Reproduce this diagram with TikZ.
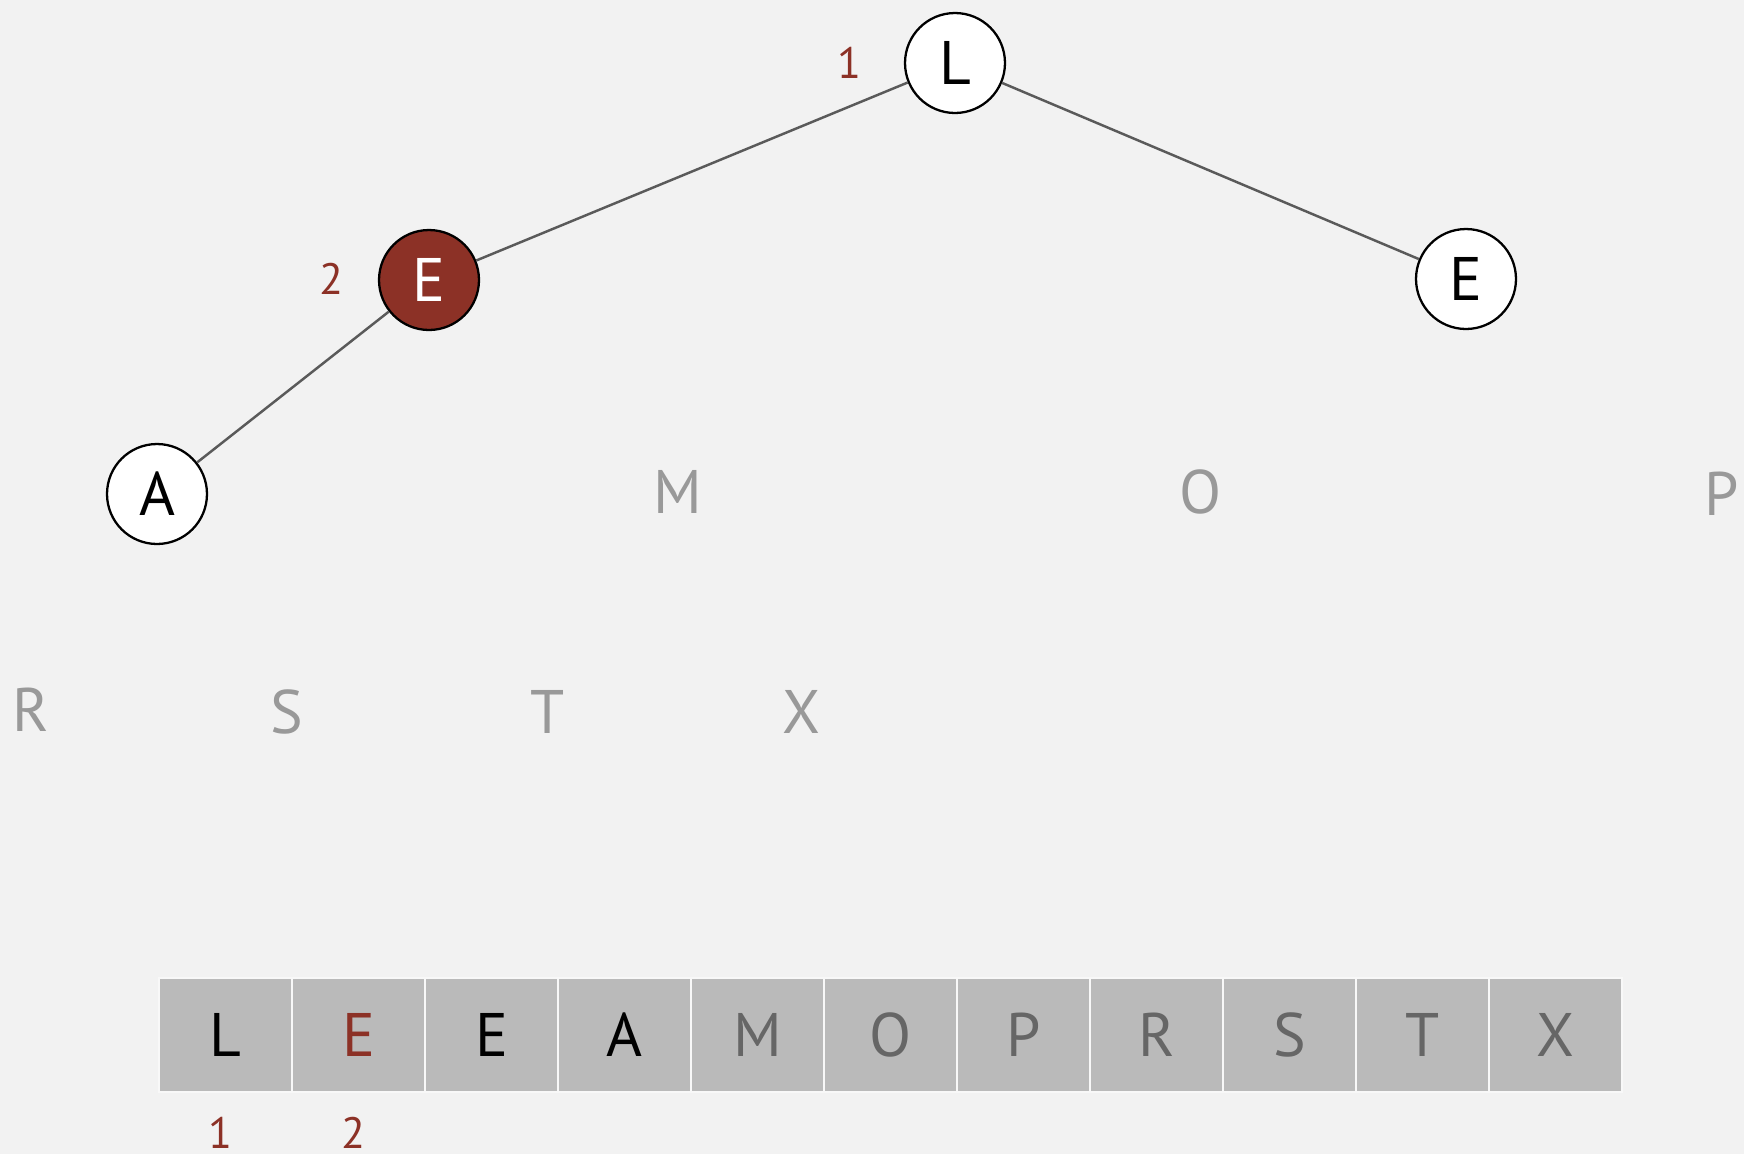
\documentclass[tikz,border=0pt]{standalone}
\usepackage{fontspec}
\setmainfont{PT Sans}
\usetikzlibrary{positioning}
\definecolor{bgcol}{HTML}{F2F2F2}
\definecolor{hlred}{HTML}{8C3126}
\definecolor{faded}{HTML}{999999}
\definecolor{darkgrey}{HTML}{666666}
\definecolor{cellgrey}{HTML}{BABABA}
\definecolor{edgegrey}{HTML}{5A5A5A}
\tikzset{
    treenode/.style={circle, draw=black, line width=1.3pt, fill=white, minimum size=2cm, inner sep=0pt, font=\fontsize{35}{35}\selectfont},
    hlnode/.style={treenode, fill=hlred, text=white},
    ghost/.style={text=faded, font=\fontsize{35}{35}\selectfont},
    idx/.style={text=hlred, font=\fontsize{25}{25}\selectfont},
    edge/.style={draw=edgegrey, line width=1.4pt},
    cell/.style={rectangle, draw=white!90!cellgrey, line width=1pt, fill=cellgrey, minimum width=2.66cm, minimum height=2.28cm, inner sep=0pt, font=\fontsize{35}{35}\selectfont}
}
\begin{document}
\begin{tikzpicture}[x=0.02cm, y=-0.02cm]
        \fill[bgcol] (0,0) rectangle (1744,1154);
        \useasboundingbox (0,0) rectangle (1744,1154);
        % Tree
        \node (l) [treenode] at (955, 63) {L};
        \node (e1) [hlnode] at (429, 280) {E};
        \node (e2) [treenode] at (1466, 279) {E};
        \node (a) [treenode] at (157, 494) {A};
        \node (l1) [idx] at (849, 63) {1};
        \node (l2) [idx] at (331, 279) {2};
        
        % Remaining keys
        \node (m) [ghost] at (678, 492) {M};
        \node (o) [ghost] at (1201, 492) {O};
        \node (p) [ghost] at (1722, 494) {P};
        \node (r) [ghost] at (31, 710) {R};
        \node (s) [ghost] at (287, 712) {S};
        \node (t) [ghost] at (548, 712) {T};
        \node (x) [ghost] at (801, 712) {X};
        
        % Links
        \draw[edge] (l) -- (e1);
        \draw[edge] (l) -- (e2);
        \draw[edge] (e1) -- (a);
        
        % Array
        \foreach \ch/\col [count=\i from 0] in {L/black, E/hlred, E/black, A/black, M/darkgrey, O/darkgrey, P/darkgrey, R/darkgrey, S/darkgrey, T/darkgrey, X/darkgrey}
            \node (c\i) [cell, text=\col] at (225.5+133*\i, 1035) {\ch};
        \node (i1) [idx, below=0.36cm of c0, xshift=-0.1cm] {1};
        \node (i2) [idx, below=0.36cm of c1, xshift=-0.1cm] {2};
    \end{tikzpicture}
\end{document}
